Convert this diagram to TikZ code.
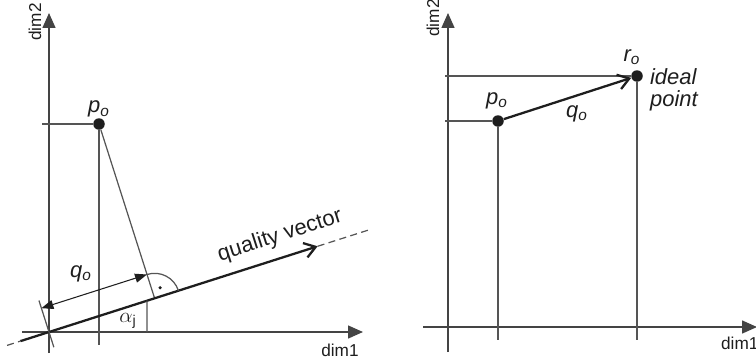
\documentclass[tikz,border=0pt]{standalone}
\usepackage{fontspec}
\setmainfont{Liberation Sans}
\usepackage{tikz}
\usetikzlibrary{arrows.meta,positioning,calc}
\definecolor{ink}{HTML}{1E1E1E}
\definecolor{ink2}{HTML}{555555}
\definecolor{axisgray}{HTML}{444444}

\begin{document}
\begin{tikzpicture}[x=0.02cm, y=0.02cm,
  ax/.style={draw=axisgray, line width=0.85pt, -{Triangle[length=3mm, width=2.6mm]}},
  guide/.style={draw=ink2, line width=0.7pt},
  vec/.style={draw=ink, line width=1.3pt},
  barb/.style={-{Straight Barb[length=2.2mm, width=3mm]}},
  dimarr/.style={draw=ink, line width=0.6pt, {Triangle[length=2.4mm, width=1.8mm]}-{Triangle[length=2.4mm, width=1.8mm]}},
  pt/.style={circle, fill=ink, inner sep=0pt, minimum size=2.3mm},
  lab/.style={font=\fontsize{12.5}{13}\selectfont\itshape, text=ink, inner sep=1pt},
  dimlab/.style={font=\fontsize{9.8}{11}\selectfont, text=ink, inner sep=1pt},
]
\useasboundingbox (0,0) rectangle (756,363);

% left: projection on the quality vector
\coordinate (o1) at (49,31);
\coordinate (qe) at ($(o1)+(17.7:335)$);
\coordinate (qtip) at ($(o1)+(17.7:282)$);
\coordinate (qs) at ($(o1)+(17.7:-30)$);
\coordinate (qs2) at ($(o1)+(17.7:-44)$);
\node[pt] (p0) at (99,239) {};
\coordinate (foot) at ($(o1)!(p0)!(qe)$);
\coordinate (ya1) at (49,10);
\coordinate (yb1) at (49,350);
\coordinate (xa1) at (22,31);
\coordinate (xb1) at (363,31);
\draw[ax] (ya1) -- (yb1);
\draw[ax] (xa1) -- (xb1);
\node[dimlab, rotate=90] (d2l) at (35,341) {dim2};
\node[dimlab] (d1l) at (340,13) {dim1};
\coordinate (p0h) at (42,239);
\coordinate (p0v) at (99,18);
\draw[guide] (p0h) -- (p0);
\draw[guide] (p0) -- (p0v);
\draw[guide] (p0) -- (foot);
\draw[vec, barb] (qs) -- (qtip);
\draw[guide, dashed, dash pattern=on 4pt off 2.5pt] (qtip) -- (qe);
\draw[guide, dashed, dash pattern=on 4pt off 2.5pt] (qs2) -- (qs);
\draw[guide] ($(foot)+(17.7:25)$) arc[start angle=17.7, end angle=107.7, radius=0.5cm];
\fill[ink] ($(foot)+(62.7:12)$) circle[radius=1pt];
\draw[guide] ($(o1)+(107.7:-16)$) -- ($(o1)+(107.7:33)$);
\draw[dimarr] ($(o1)+(107.7:25)$) -- ($(foot)+(107.7:25)$);
\coordinate (ab) at (147,31);
\coordinate (at) at (147,200);
\draw[guide] (ab) -- (intersection of o1--qe and ab--at);
\node[font=\fontsize{11.5}{12}\selectfont, text=ink] (alj) at (128,42) {$\alpha_{\mathrm{j}}$};
\node[lab, above=-1pt of p0] (p0l) {p\textsubscript{o}};
\node[lab] (q0l) at (81,89) {q\textsubscript{o}};
\node[font=\fontsize{12.5}{14}\selectfont, text=ink, rotate=17.7, inner sep=0pt] (qvl) at (280,127) {quality vector};

% right: distance to the ideal point
\coordinate (ya2) at (448,11);
\coordinate (yb2) at (448,350);
\coordinate (xa2) at (423,36);
\coordinate (xb2) at (757,36);
\draw[ax] (ya2) -- (yb2);
\draw[ax] (xa2) -- (xb2);
\node[dimlab, rotate=90] (d2r) at (433,345) {dim2};
\node[dimlab, anchor=west] (d1r) at (719,20) {dim1};
\node[pt] (p0b) at (498,242) {};
\node[pt] (r0) at (637,287) {};
\coordinate (p0bh) at (445,242);
\coordinate (r0h) at (445,287);
\coordinate (p0bv) at (498,23);
\coordinate (r0v) at (637,23);
\draw[guide] (p0bh) -- (p0b);
\draw[guide] (r0h) -- (r0);
\draw[guide] (p0b) -- (p0bv);
\draw[guide] (r0) -- (r0v);
\draw[vec, barb] (p0b) -- (r0);
\node[lab] (p0bl) at (497,262) {p\textsubscript{o}};
\node[lab] (r0l) at (632,306) {r\textsubscript{o}};
\node[lab] (q0bl) at (577,249) {q\textsubscript{o}};
\node[lab, align=left, anchor=north west] (ideal) at (648,297) {ideal\\point};
\end{tikzpicture}
\end{document}
